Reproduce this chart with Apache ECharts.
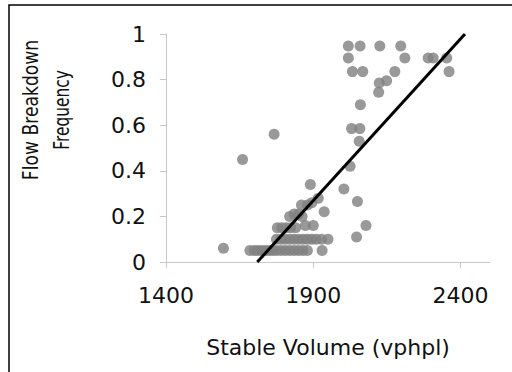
<!DOCTYPE html>
<html>
<head>
<meta charset="utf-8">
<script src="https://cdn.jsdelivr.net/npm/echarts@6/dist/echarts.min.js"></script>
<style>
html,body{margin:0;padding:0;background:#fff;}
#chart{width:512px;height:372px;}
</style>
</head>
<body>
<div id="chart"></div>
<script>
// Observed points: [stable volume (vphpl), flow breakdown frequency]
const volumes = [
  1595, 1660, 1767,
  1685, 1700, 1712, 1725, 1738, 1750, 1762, 1775, 1790, 1805, 1820, 1835, 1850, 1865, 1880, 1930,
  1775, 1790, 1805, 1820, 1835, 1850, 1865, 1880, 1895, 1910, 1928, 1950, 2047,
  1778, 1793, 1808, 1823, 1840, 1873, 1900, 2079,
  1820, 1835, 1850, 1862,
  1860, 1880, 1895,
  1917, 1937, 1890, 2004, 2050, 2025, 2056, 2030, 2058, 2060,
  2122, 2124, 2149, 2033, 2068, 2177, 2361,
  2019, 2211, 2290, 2307, 2353,
  2019, 2059, 2126, 2197
];
const frequencies = [
  0.06, 0.45, 0.56,
  0.05, 0.05, 0.05, 0.05, 0.05, 0.05, 0.05, 0.05, 0.05, 0.05, 0.05, 0.05, 0.05, 0.05, 0.05, 0.05,
  0.10, 0.10, 0.10, 0.10, 0.10, 0.10, 0.10, 0.10, 0.10, 0.10, 0.10, 0.10, 0.11,
  0.15, 0.15, 0.15, 0.15, 0.15, 0.16, 0.16, 0.16,
  0.20, 0.21, 0.21, 0.20,
  0.25, 0.25, 0.26,
  0.28, 0.22, 0.34, 0.32, 0.265, 0.42, 0.53, 0.585, 0.585, 0.69,
  0.745, 0.785, 0.795, 0.835, 0.835, 0.835, 0.835,
  0.895, 0.895, 0.895, 0.895, 0.895,
  0.947, 0.947, 0.947, 0.947
];
// Linear trend line end points
const trendVolumes = [1710, 2415];
const trendFrequencies = [0, 1];
// Axis ticks
const xTicks = [1400, 1900, 2400];
const yTicks = [0, 0.2, 0.4, 0.6, 0.8, 1];

const FONT = 'DejaVu Sans';
const chart = echarts.init(document.getElementById('chart'), null, {renderer: 'svg'});
chart.setOption({
  animation: false,
  backgroundColor: '#ffffff',
  grid: {left: 166, width: 324, top: 34, bottom: 110, containLabel: false},
  xAxis: {
    type: 'value', min: 1400, max: 2500, interval: 500,
    axisLine: {show: true, lineStyle: {color: '#c8c8c8', width: 1}},
    axisTick: {show: true, length: 6, inside: false, customValues: xTicks, lineStyle: {color: '#c8c8c8'}},
    axisLabel: {customValues: xTicks, margin: 22, fontSize: 22, color: '#111', fontFamily: FONT,
      formatter: v => String(v)},
    splitLine: {show: false}
  },
  yAxis: {
    type: 'value', min: 0, max: 1, interval: 0.2,
    axisLine: {show: true, lineStyle: {color: '#c8c8c8', width: 1}},
    axisTick: {show: true, length: 6, inside: false, lineStyle: {color: '#c8c8c8'}},
    axisLabel: {margin: 20, fontSize: 22, color: '#111', fontFamily: FONT,
      formatter: v => String(+v.toFixed(1))},
    splitLine: {show: false}
  },
  graphic: [
    {type: 'rect', shape: {x: 9, y: 5, width: 620, height: 620}, style: {fill: 'none', stroke: '#000', lineWidth: 1.5}, silent: true},
    {type: 'text', x: 328, y: 347, style: {text: 'Stable Volume (vphpl)', font: '22px "DejaVu Sans"', fill: '#111', textAlign: 'center', textVerticalAlign: 'middle'}},
    {type: 'text', x: 31, y: 110, rotation: Math.PI / 2, scaleX: 0.78, style: {text: 'Flow Breakdown', font: '22px "DejaVu Sans"', fill: '#111', textAlign: 'center', textVerticalAlign: 'middle'}},
    {type: 'text', x: 61, y: 110, rotation: Math.PI / 2, scaleX: 0.7, style: {text: 'Frequency', font: '22px "DejaVu Sans"', fill: '#111', textAlign: 'center', textVerticalAlign: 'middle'}}
  ],
  series: [
    {
      type: 'scatter',
      data: volumes.map((v, i) => [v, frequencies[i]]),
      symbol: 'circle', symbolSize: 11,
      itemStyle: {color: '#7f7f7f'},
      z: 2
    },
    {
      type: 'line',
      data: trendVolumes.map((v, i) => [v, trendFrequencies[i]]),
      showSymbol: false, symbol: 'none',
      lineStyle: {color: '#000', width: 3},
      z: 3
    }
  ]
});
</script>
</body>
</html>
